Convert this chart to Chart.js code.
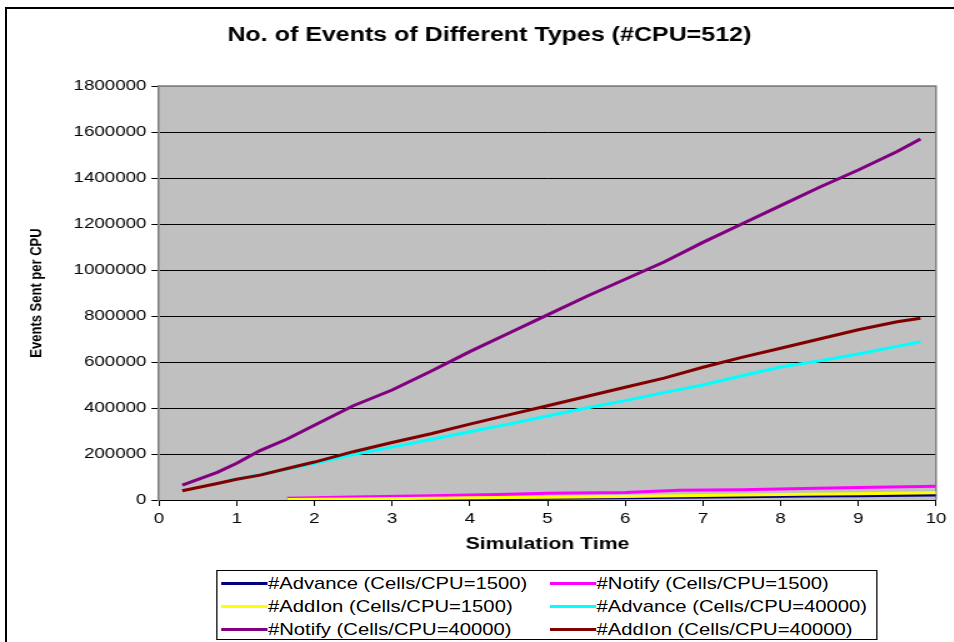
<!DOCTYPE html>
<html>
<head>
<meta charset="utf-8">
<title>No. of Events of Different Types</title>
<script src="https://cdn.jsdelivr.net/npm/chart.js@4.4.0/dist/chart.umd.min.js"></script>
<style>
  html, body { margin: 0; padding: 0; background: #fff; overflow: hidden; width: 954px; height: 642px; }
  #frame { position: absolute; left: 5px; top: 7px; width: 1000px; height: 700px; border: 2px solid #000; }
  /* the original picture is stretched sideways, so draw narrow and widen */
  #stretch { position: absolute; left: 0; top: 0; width: 783px; height: 642px; transform: scaleX(1.25); transform-origin: 0 0; }
  #legend {
    position: absolute; left: 172.8px; top: 570px; width: 529.6px; height: 70px;
    box-sizing: border-box; border: 1px solid #000; padding: 1.5px 0 0 3.6px; background: #fff;
    display: grid; grid-template-columns: 262.9px 1fr; grid-auto-rows: 22.7px;
    font: 16.2px 'Liberation Sans', Arial, sans-serif; color: #000;
  }
  .item { display: flex; align-items: center; white-space: nowrap; }
  .swatch { display: inline-block; width: 37px; height: 3px; margin-right: 0; }
</style>
</head>
<body>
<div id="frame"></div>
<div id="stretch">
  <canvas id="chart" width="783" height="642"></canvas>
  <div id="legend"></div>
</div>
<script>
// Simulation time of the samples
const bigTime = [0.3, 0.75, 1.0, 1.3, 1.65, 2.0, 2.5, 3.0, 3.5, 4.0, 4.5, 5.0, 5.5, 6.0, 6.5, 7.0, 7.5, 8.0, 8.5, 9.0, 9.5, 9.8];
const advance40kTime = [0.9, 1.3, 1.65, 2.0, 2.5, 3.0, 3.5, 4.0, 4.5, 5.0, 5.5, 6.0, 6.5, 7.0, 7.5, 8.0, 8.5, 9.0, 9.5, 9.8];
const smallTime = [1.65, 2.5, 3.5, 4.5, 5.0, 6.0, 6.7, 7.5, 8.3, 9.0, 10.0];

// Events sent per CPU, Cells/CPU=1500
const advance1500 = [1000, 3000, 5500, 7000, 8000, 10000, 12000, 14000, 17000, 19000, 22000];
const notify1500 = [8000, 13000, 18000, 25000, 29000, 33000, 42000, 45000, 50000, 54000, 60000];
const addIon1500 = [2000, 4500, 7500, 10500, 12000, 15000, 18000, 22000, 25000, 27000, 32000];

// Events sent per CPU, Cells/CPU=40000
const advance40k = [85000, 110000, 135000, 160000, 198000, 230000, 263000, 297000, 330000, 365000,
  400000, 432000, 467000, 500000, 540000, 578000, 605000, 635000, 668000, 688000];
const notify40k = [65000, 120000, 160000, 215000, 265000, 325000, 410000, 478000, 560000, 645000, 725000,
  805000, 885000, 960000, 1035000, 1120000, 1200000, 1280000, 1360000, 1435000, 1515000, 1570000];
const addIon40k = [40000, 72000, 90000, 108000, 137000, 165000, 210000, 250000, 288000, 330000, 370000,
  410000, 450000, 490000, 530000, 577000, 620000, 660000, 700000, 740000, 775000, 790000];

const xTicks = [0, 1, 2, 3, 4, 5, 6, 7, 8, 9, 10];
const yTicks = [0, 200000, 400000, 600000, 800000, 1000000, 1200000, 1400000, 1600000, 1800000];

const seriesLabels = [
  '#Advance (Cells/CPU=1500)', '#Notify (Cells/CPU=1500)', '#AddIon (Cells/CPU=1500)',
  '#Advance (Cells/CPU=40000)', '#Notify (Cells/CPU=40000)', '#AddIon (Cells/CPU=40000)'
];
const seriesColors = ['#000080', '#ff00ff', '#ffff00', '#00ffff', '#800080', '#800000'];
const seriesTimes = [smallTime, smallTime, smallTime, advance40kTime, bigTime, bigTime];
const seriesValues = [advance1500, notify1500, addIon1500, advance40k, notify40k, addIon40k];

Chart.defaults.font.family = "'Liberation Sans', Arial, sans-serif";
Chart.defaults.color = '#000';

// gray plot area with a gray frame, like the spreadsheet
const plotBackground = {
  id: 'plotBackground',
  beforeDraw(chart) {
    const { ctx, chartArea: a } = chart;
    ctx.save();
    ctx.fillStyle = '#c0c0c0';
    ctx.fillRect(a.left, a.top, a.width, a.height);
    ctx.restore();
  },
  beforeDatasetsDraw(chart) {
    const { ctx, chartArea: a } = chart;
    ctx.save();
    ctx.strokeStyle = '#808080';
    ctx.lineWidth = 1.5;
    ctx.beginPath();
    ctx.moveTo(a.left, a.top);
    ctx.lineTo(a.right, a.top);
    ctx.lineTo(a.right, a.bottom);
    ctx.stroke();
    ctx.restore();
  }
};

const datasets = seriesLabels.map((label, i) => ({
  label,
  data: seriesTimes[i].map((t, j) => ({ x: t, y: seriesValues[i][j] })),
  borderColor: seriesColors[i],
  backgroundColor: seriesColors[i],
  borderWidth: 3,
  pointRadius: 0,
  tension: 0,
  fill: false,
  order: seriesLabels.length - i // later series on top
}));

const chart = new Chart(document.getElementById('chart'), {
  type: 'line',
  data: { datasets },
  options: {
    responsive: false,
    animation: false,
    layout: { padding: { left: 0, right: 0, top: 0, bottom: 82 } },
    plugins: {
      legend: { display: false },
      tooltip: { enabled: false },
      title: {
        display: true,
        text: 'No. of Events of Different Types (#CPU=512)',
        font: { size: 20, weight: 'bold' },
        color: '#000',
        padding: { top: 23, bottom: 39 }
      }
    },
    scales: {
      x: {
        type: 'linear',
        min: 0,
        max: 10,
        afterBuildTicks: s => { s.ticks = xTicks.map(v => ({ value: v })); },
        afterFit: s => { s.height = 60; },
        ticks: { font: { size: 15 }, color: '#000', padding: 4, maxRotation: 0, autoSkip: false },
        grid: { drawOnChartArea: false, tickLength: 6, color: '#000' },
        border: { color: '#000', width: 1 },
        title: {
          display: true,
          text: 'Simulation Time',
          font: { size: 17, weight: 'bold' },
          color: '#000',
          padding: 5
        }
      },
      y: {
        type: 'linear',
        min: 0,
        max: 1800000,
        afterBuildTicks: s => { s.ticks = yTicks.map(v => ({ value: v })); },
        afterFit: s => { s.width = 127.2; },
        ticks: { font: { size: 15 }, color: '#000', padding: 4, callback: v => String(v) },
        grid: {
          tickLength: 6,
          color: c => (c.tick && c.tick.value === 1800000 ? '#808080' : '#000'),
          tickColor: '#000',
          lineWidth: 1
        },
        border: { color: '#808080', width: 1.6 },
        title: {
          display: true,
          text: 'Events Sent per CPU',
          font: { size: 13, weight: 'bold' },
          color: '#000',
          padding: 22
        }
      },
      // empty box on the right so the title centres like the original frame
      spacer: {
        type: 'linear',
        position: 'right',
        display: true,
        ticks: { display: false },
        grid: { display: false },
        border: { display: false },
        afterFit: s => { s.width = 34.2; }
      }
    }
  },
  plugins: [plotBackground]
});

// Legend in two columns, built from the datasets
const legendBox = document.getElementById('legend');
chart.data.datasets.forEach(ds => {
  const item = document.createElement('div');
  item.className = 'item';
  const sw = document.createElement('span');
  sw.className = 'swatch';
  sw.style.background = ds.borderColor;
  item.appendChild(sw);
  item.appendChild(document.createTextNode(ds.label));
  legendBox.appendChild(item);
});
</script>
</body>
</html>
